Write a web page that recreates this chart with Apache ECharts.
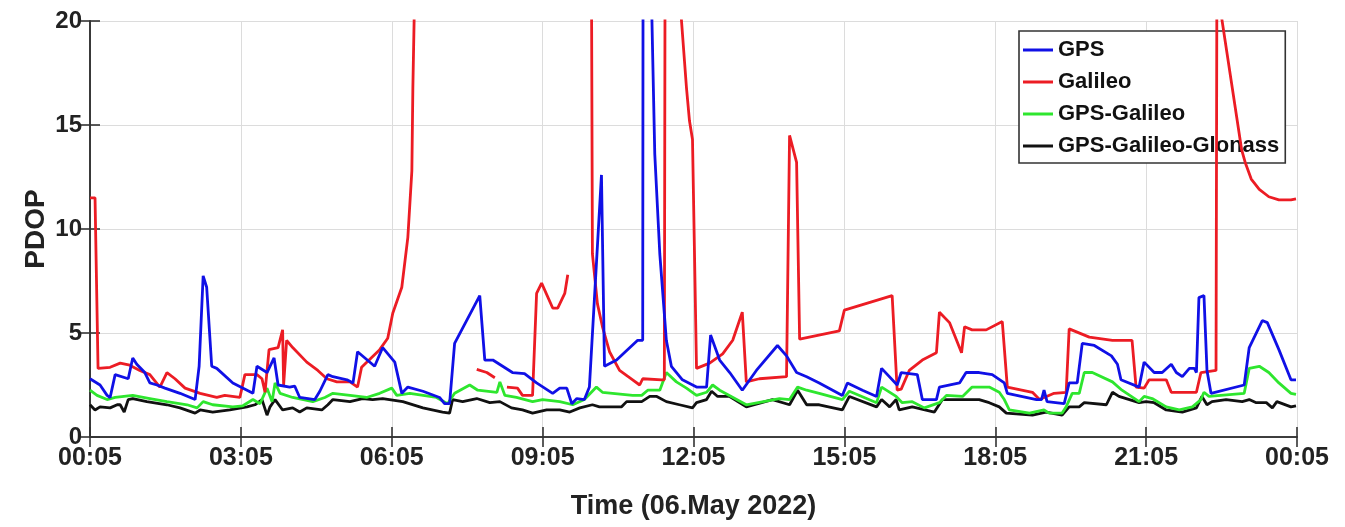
<!DOCTYPE html>
<html>
<head>
<meta charset="utf-8">
<script src="https://cdn.jsdelivr.net/npm/echarts@6/dist/echarts.min.js"></script>
<style>
html,body{margin:0;padding:0;background:#fff;}
#chart{width:1345px;height:527px;}
</style>
</head>
<body>
<div id="chart"></div>
<script>
// x = hours after 00:05 (06.May 2022), y = PDOP
const xTicks = [0, 3, 6, 9, 12, 15, 18, 21, 24];
const yTicks = [0, 5, 10, 15, 20];
const seriesNames = ['GPS', 'Galileo', 'GPS-Galileo', 'GPS-Galileo-Glonass'];

const gps = [[0.00,2.8],[0.20,2.5],[0.34,2.0],[0.40,1.9],[0.50,3.0],[0.76,2.8],[0.85,3.8],[0.93,3.5],[1.09,3.1],[1.19,2.6],[1.33,2.5],[1.49,2.35],[1.79,2.1],[2.09,1.8],[2.17,3.4],[2.25,7.75],[2.32,7.2],[2.42,3.4],[2.52,3.3],[2.84,2.6],[3.24,2.1],[3.32,3.4],[3.52,3.1],[3.66,3.8],[3.74,2.5],[3.97,2.4],[4.07,2.45],[4.17,1.9],[4.47,1.8],[4.57,2.2],[4.73,3.0],[4.83,2.9],[5.11,2.75],[5.23,2.6],[5.32,4.1],[5.66,3.4],[5.82,4.3],[6.06,3.6],[6.20,2.1],[6.32,2.4],[6.62,2.2],[6.95,1.9],[7.05,1.6],[7.15,1.6],[7.25,4.5],[7.75,6.8],[7.85,3.7],[8.01,3.7],[8.40,3.1],[8.64,3.05],[8.88,2.6],[9.20,2.1],[9.34,2.35],[9.48,2.35],[9.58,1.6],[9.68,1.85],[9.83,1.8],[9.93,2.4],[10.17,12.6],[10.23,3.4],[10.47,3.7],[10.89,4.65],[10.99,4.65],[11.00,30],[11.13,25],[11.23,13.6],[11.33,8.8],[11.46,4.65],[11.56,3.4],[11.78,2.75],[12.06,2.4],[12.26,2.4],[12.34,4.9],[12.52,3.7],[12.72,3.1],[12.97,2.25],[13.25,3.2],[13.67,4.4],[13.85,3.9],[14.05,3.1],[14.25,2.9],[14.50,2.6],[14.96,2.0],[15.06,2.6],[15.36,2.25],[15.64,1.95],[15.74,3.3],[16.05,2.5],[16.13,3.1],[16.45,3.0],[16.55,1.8],[16.83,1.8],[16.89,2.4],[17.29,2.6],[17.42,3.1],[17.68,3.1],[17.94,3.0],[18.18,2.6],[18.24,2.1],[18.82,1.8],[18.92,1.8],[18.97,2.25],[19.03,1.7],[19.37,1.6],[19.47,2.6],[19.63,2.6],[19.73,4.5],[19.97,4.4],[20.31,3.9],[20.43,3.5],[20.50,2.75],[20.86,2.4],[20.96,3.6],[21.16,3.1],[21.32,3.1],[21.50,3.5],[21.60,3.1],[21.72,2.9],[21.86,3.3],[21.96,3.3],[22.00,3.1],[22.05,6.7],[22.15,6.8],[22.21,3.2],[22.29,2.1],[22.95,2.5],[23.05,4.3],[23.31,5.6],[23.41,5.5],[23.64,4.2],[23.88,2.75],[23.98,2.75]];

const galileo = [[0.00,11.5],[0.10,11.5],[0.16,3.3],[0.40,3.35],[0.60,3.55],[0.79,3.45],[0.99,3.2],[1.19,3.0],[1.39,2.4],[1.53,3.1],[1.69,2.8],[1.89,2.35],[2.19,2.1],[2.52,1.9],[2.68,2.0],[2.98,1.9],[3.08,3.0],[3.32,3.0],[3.42,2.8],[3.48,2.15],[3.56,4.2],[3.74,4.3],[3.83,5.15],[3.85,2.5],[3.91,4.65],[4.03,4.3],[4.31,3.6],[4.53,3.2],[4.71,2.8],[4.91,2.65],[5.17,2.65],[5.32,2.4],[5.40,3.35],[5.76,4.2],[5.92,4.75],[6.02,5.95],[6.20,7.2],[6.32,9.6],[6.40,12.8],[6.42,16.8],[6.46,22],[6.50,null],[7.69,3.25],[7.89,3.1],[8.05,2.85],[8.15,null],[8.29,2.4],[8.50,2.35],[8.60,2.0],[8.80,2.0],[8.88,6.9],[8.98,7.4],[9.20,6.2],[9.30,6.2],[9.44,6.9],[9.50,7.8],[9.70,null],[9.96,30],[9.99,8.8],[10.09,6.4],[10.19,5.3],[10.33,4.1],[10.53,3.2],[10.79,2.75],[10.93,2.5],[10.99,2.8],[11.37,2.75],[11.42,2.75],[11.44,30],[11.70,22],[11.86,16.8],[11.92,15.2],[11.98,14.3],[12.06,3.3],[12.32,3.55],[12.58,4.0],[12.78,4.65],[12.97,6.0],[13.05,2.65],[13.31,2.8],[13.85,2.9],[13.91,14.5],[14.05,13.2],[14.11,4.7],[14.90,5.1],[15.00,6.1],[15.95,6.8],[16.05,2.25],[16.13,2.3],[16.29,3.2],[16.55,3.7],[16.83,4.05],[16.89,6.0],[17.09,5.5],[17.33,4.05],[17.39,5.3],[17.54,5.15],[17.82,5.15],[18.14,5.55],[18.24,2.4],[18.74,2.15],[18.88,1.8],[19.17,2.1],[19.41,2.15],[19.47,5.2],[19.87,4.8],[20.33,4.65],[20.72,4.65],[20.80,2.4],[20.96,2.35],[21.06,2.75],[21.40,2.75],[21.50,2.15],[22.00,2.15],[22.09,3.1],[22.39,3.2],[22.41,25],[22.48,20.5],[22.90,13.8],[22.97,13.2],[23.09,12.4],[23.25,11.9],[23.44,11.55],[23.64,11.4],[23.88,11.4],[23.98,11.45]];

const gpsGalileo = [[0.00,2.25],[0.14,2.0],[0.34,1.8],[0.50,1.9],[0.85,2.0],[1.19,1.85],[1.53,1.7],[1.93,1.55],[2.13,1.4],[2.25,1.7],[2.44,1.55],[2.84,1.45],[3.04,1.5],[3.24,1.8],[3.38,1.6],[3.52,2.35],[3.62,1.7],[3.68,2.6],[3.78,2.1],[4.03,1.9],[4.43,1.7],[4.67,1.9],[4.83,2.1],[5.17,2.0],[5.50,1.9],[5.76,2.1],[6.00,2.35],[6.10,2.0],[6.36,2.1],[6.89,1.9],[7.11,1.6],[7.25,2.1],[7.55,2.5],[7.71,2.25],[8.09,2.15],[8.15,2.65],[8.25,2.0],[8.48,1.9],[8.80,1.7],[9.00,1.8],[9.34,1.7],[9.60,1.55],[9.83,1.8],[10.07,2.4],[10.19,2.15],[10.39,2.1],[10.79,2.0],[10.97,2.0],[11.09,2.25],[11.33,2.25],[11.46,3.1],[11.66,2.65],[11.86,2.35],[12.06,2.0],[12.26,2.15],[12.38,2.5],[12.52,2.25],[13.05,1.55],[13.71,1.85],[13.91,1.8],[14.07,2.4],[14.25,2.25],[14.50,2.1],[14.96,1.8],[15.10,2.2],[15.64,1.65],[15.74,2.4],[16.03,1.95],[16.15,1.65],[16.35,1.7],[16.59,1.4],[16.89,1.65],[17.03,2.0],[17.35,1.95],[17.54,2.4],[17.88,2.4],[18.08,2.15],[18.18,1.8],[18.28,1.3],[18.68,1.15],[18.97,1.3],[19.07,1.15],[19.33,1.15],[19.41,1.45],[19.53,2.1],[19.67,2.1],[19.77,3.1],[19.93,3.1],[20.33,2.65],[20.52,2.25],[20.86,1.7],[20.96,1.95],[21.12,1.85],[21.40,1.45],[21.66,1.3],[21.92,1.45],[22.09,1.8],[22.15,2.15],[22.25,1.95],[22.95,2.1],[23.05,3.3],[23.25,3.4],[23.44,3.1],[23.64,2.6],[23.88,2.1],[23.98,2.05]];

const gpsGalileoGlonass = [[0.00,1.55],[0.10,1.3],[0.20,1.45],[0.40,1.4],[0.54,1.55],[0.60,1.55],[0.68,1.2],[0.76,1.8],[0.85,1.85],[1.13,1.7],[1.53,1.55],[1.79,1.4],[2.09,1.15],[2.19,1.3],[2.44,1.2],[2.78,1.3],[3.12,1.45],[3.28,1.55],[3.42,1.8],[3.52,1.05],[3.58,1.45],[3.68,1.8],[3.83,1.3],[4.03,1.4],[4.17,1.2],[4.31,1.4],[4.61,1.3],[4.73,1.55],[4.83,1.8],[5.17,1.7],[5.42,1.85],[5.62,1.8],[5.82,1.85],[6.22,1.7],[6.62,1.4],[7.01,1.2],[7.15,1.15],[7.21,1.8],[7.41,1.7],[7.69,1.85],[7.95,1.65],[8.15,1.7],[8.38,1.4],[8.60,1.3],[8.80,1.15],[9.08,1.3],[9.34,1.3],[9.54,1.2],[9.74,1.4],[9.99,1.55],[10.13,1.45],[10.57,1.45],[10.67,1.7],[10.97,1.7],[11.13,1.95],[11.27,1.95],[11.46,1.7],[11.72,1.55],[11.98,1.4],[12.06,1.65],[12.26,1.8],[12.36,2.2],[12.48,1.95],[12.72,1.95],[13.05,1.45],[13.57,1.8],[13.91,1.55],[14.07,2.25],[14.25,1.55],[14.50,1.55],[14.96,1.3],[15.10,1.95],[15.64,1.45],[15.74,1.8],[15.90,1.45],[16.03,1.8],[16.09,1.3],[16.35,1.45],[16.79,1.2],[16.95,1.8],[17.35,1.8],[17.68,1.8],[17.88,1.65],[18.08,1.45],[18.22,1.15],[18.74,1.05],[19.01,1.2],[19.33,1.05],[19.47,1.45],[19.67,1.45],[19.77,1.65],[20.21,1.55],[20.33,2.15],[20.46,1.95],[20.86,1.65],[21.00,1.7],[21.16,1.65],[21.40,1.3],[21.72,1.2],[22.00,1.4],[22.11,1.95],[22.21,1.55],[22.31,1.7],[22.59,1.8],[22.91,1.7],[23.05,1.8],[23.19,1.65],[23.39,1.65],[23.51,1.4],[23.60,1.7],[23.88,1.45],[23.98,1.5]];

const colors = ['#1010e6', '#ec1c24', '#2ee62e', '#111111'];
const FONT = '"Liberation Sans", Arial, Helvetica, sans-serif';

function fmtTime(v) {
  const h = Math.round(v) % 24;
  return (h < 10 ? '0' + h : '' + h) + ':05';
}

const chart = echarts.init(document.getElementById('chart'), null, {renderer: 'canvas'});
const axisLineStyle = {color: '#333', width: 1.6};
const option = {
  animation: false,
  backgroundColor: '#fff',
  grid: {left: 90, right: 48, top: 21, bottom: 90, containLabel: false},
  legend: {
    orient: 'vertical',
    left: 1019, top: 31,
    data: seriesNames,
    icon: 'rect',
    itemWidth: 30, itemHeight: 3,
    itemGap: 10,
    padding: [8, 6, 6, 4],
    backgroundColor: '#fff',
    borderColor: '#333',
    borderWidth: 1.6,
    borderRadius: 0,
    textStyle: {fontFamily: FONT, fontWeight: 'bold', fontSize: 22, color: '#111', lineHeight: 22}
  },
  xAxis: [{
    type: 'value', min: 0, max: 24, interval: 3,
    name: 'Time (06.May 2022)', nameLocation: 'middle', nameGap: 56,
    nameTextStyle: {fontFamily: FONT, fontWeight: 'bold', fontSize: 27, color: '#222'},
    axisLine: {show: true, lineStyle: axisLineStyle},
    axisTick: {show: true, inside: true, length: 10, lineStyle: {color: '#333', width: 1.6}},
    axisLabel: {fontFamily: FONT, fontWeight: 'bold', fontSize: 25, color: '#222', margin: 9, formatter: fmtTime},
    splitLine: {show: true, lineStyle: {color: '#dcdcdc', width: 1}}
  }, {
    type: 'value', min: 0, max: 24, interval: 3, position: 'top',
    axisLine: {show: true, lineStyle: axisLineStyle},
    axisTick: {show: true, inside: true, length: 10, lineStyle: {color: '#333', width: 1.6}},
    axisLabel: {show: false},
    splitLine: {show: false}
  }],
  yAxis: [{
    type: 'value', min: 0, max: 20, interval: 5,
    name: 'PDOP', nameLocation: 'middle', nameGap: 40, nameRotate: 90,
    nameMoveOverlap: false,
    nameTextStyle: {fontFamily: FONT, fontWeight: 'bold', fontSize: 28, color: '#222'},
    axisLine: {show: true, lineStyle: axisLineStyle},
    axisTick: {show: true, inside: true, length: 10, lineStyle: {color: '#333', width: 1.6}},
    axisLabel: {fontFamily: FONT, fontWeight: 'bold', fontSize: 24, color: '#222', margin: 8},
    splitLine: {show: true, lineStyle: {color: '#dcdcdc', width: 1}}
  }, {
    type: 'value', min: 0, max: 20, interval: 5, position: 'right',
    axisLine: {show: true, lineStyle: axisLineStyle},
    axisTick: {show: true, inside: true, length: 10, lineStyle: {color: '#333', width: 1.6}},
    axisLabel: {show: false},
    splitLine: {show: false}
  }],
  series: [gps, galileo, gpsGalileo, gpsGalileoGlonass].map((d, i) => ({
    name: seriesNames[i],
    type: 'line',
    data: d,
    xAxisIndex: 0, yAxisIndex: 0,
    showSymbol: false,
    symbol: 'none',
    connectNulls: false,
    clip: true,
    lineStyle: {color: colors[i], width: 2.8},
    itemStyle: {color: colors[i]},
    z: 2 + (3 - i)
  })).reverse()
};
chart.setOption(option);
</script>
</body>
</html>
